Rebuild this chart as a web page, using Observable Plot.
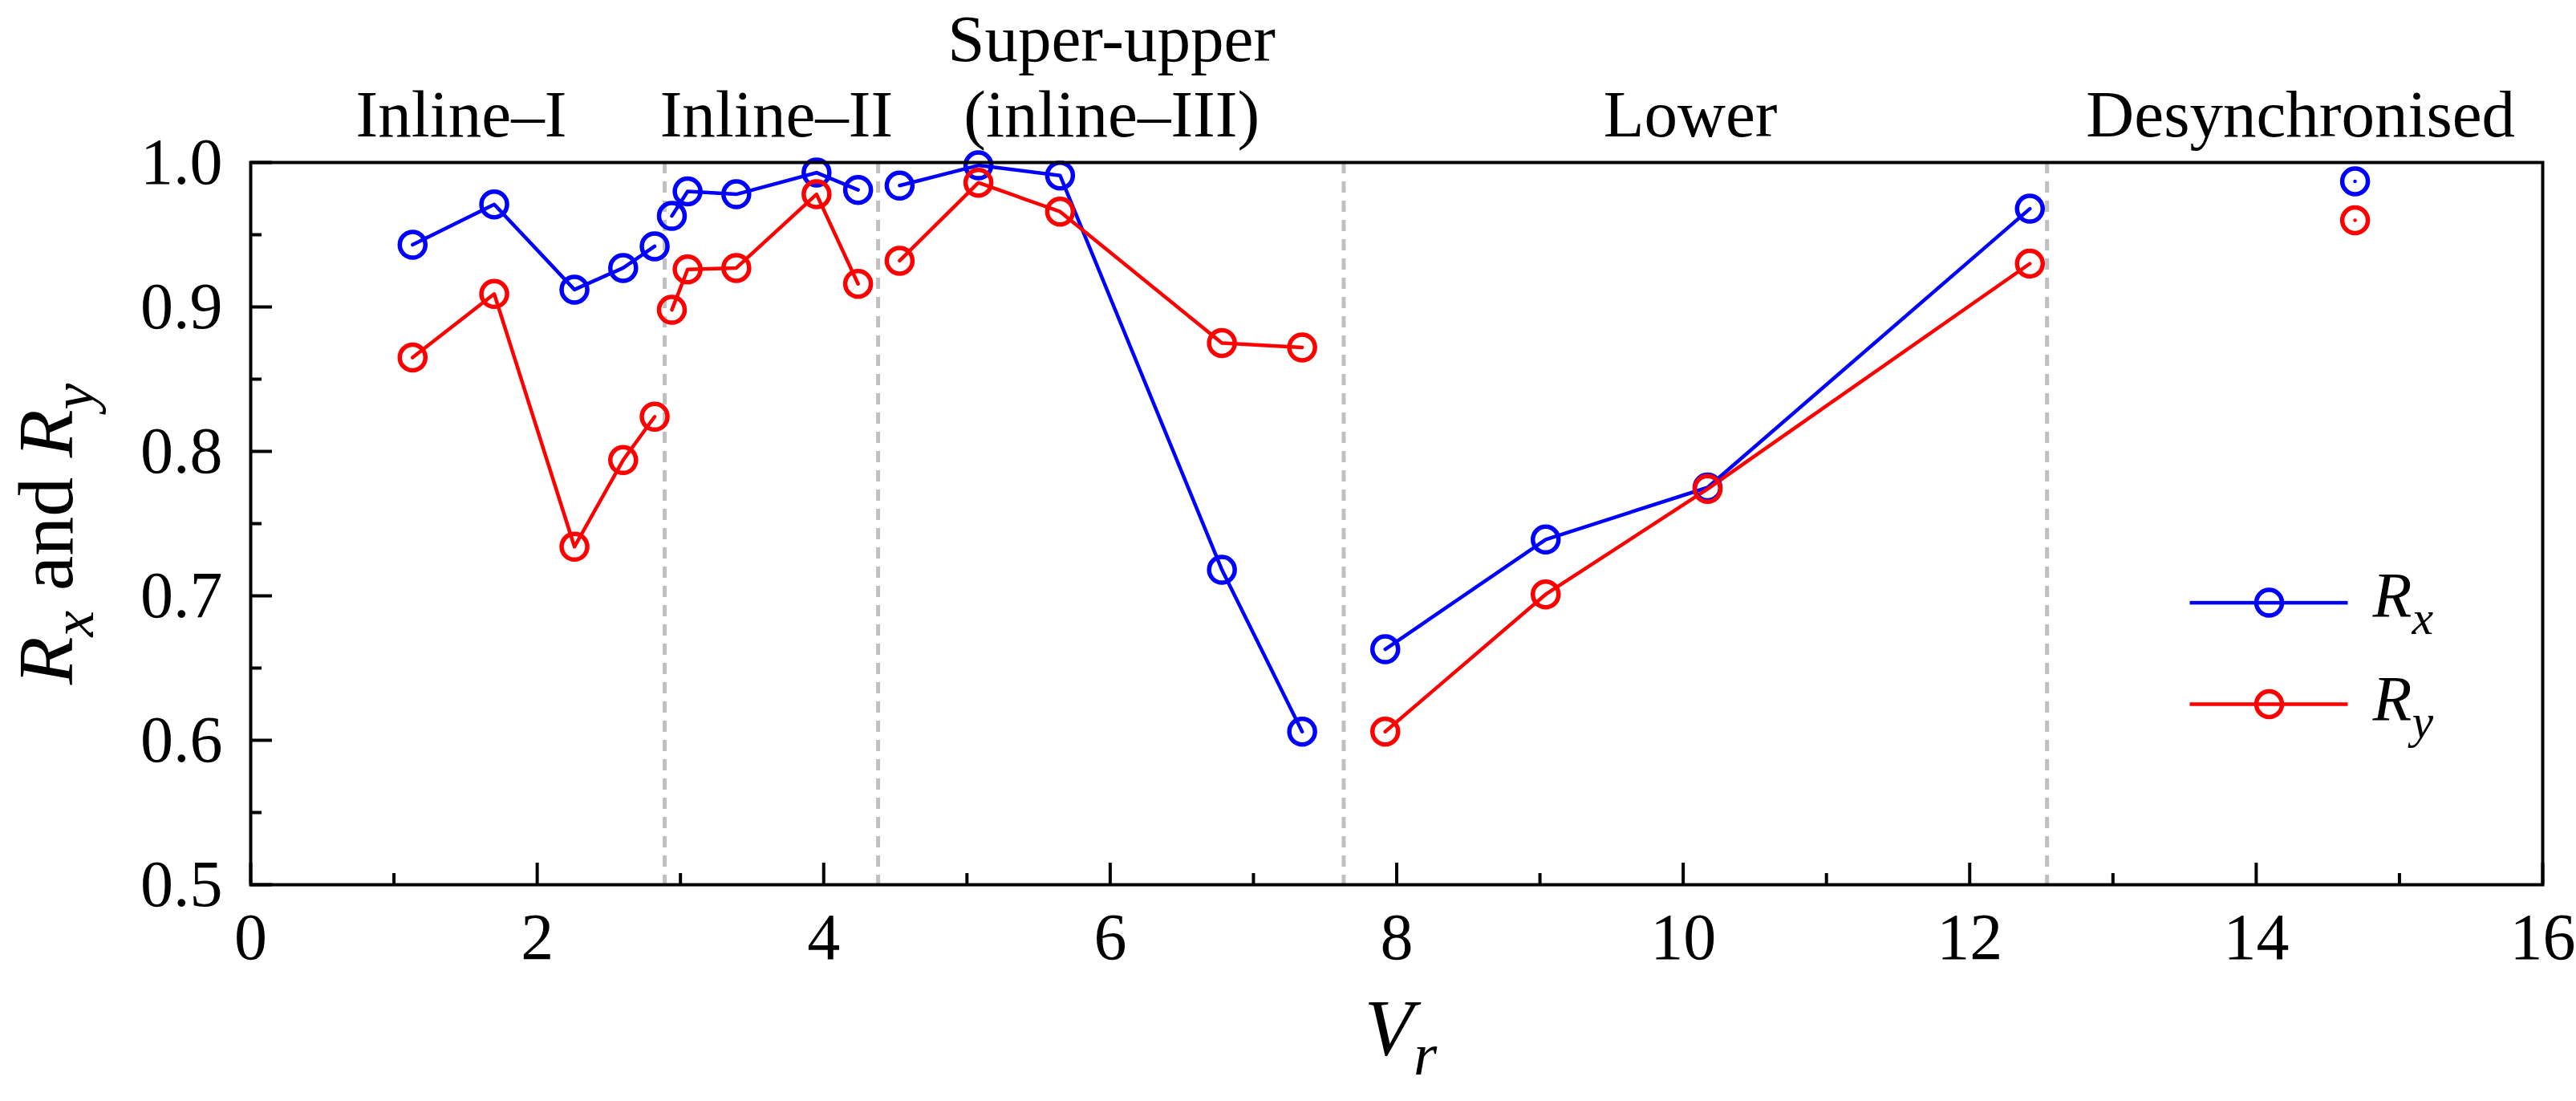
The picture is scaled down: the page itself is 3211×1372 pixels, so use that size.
<!DOCTYPE html>
<html>
<head>
<meta charset="utf-8">
<script src="https://cdn.jsdelivr.net/npm/d3@7"></script>
<script src="https://cdn.jsdelivr.net/npm/@observablehq/plot@0.6"></script>
<style>
  html, body { margin: 0; padding: 0; background: #fff; font-family: "Liberation Serif", serif; }
  #chart svg { display: block; }
  #xlabel { position: absolute; left: 0; top: 1260px; width: 3211px; height: 112px; font-family: "Liberation Serif"; font-size: 100px; }
  #xlabel span.lab { position: absolute; left: 1746px; top: -29px; transform: translateX(-50%);
                     font-family: "Liberation Serif", serif; font-size: 100px; line-height: 100px;
                     font-style: italic; color: #000; white-space: nowrap; }
  #xlabel span.sub { font-size: 75px; position: relative; top: 25px; }
</style>
</head>
<body>
<div id="xlabel"><span class="lab">V<span class="sub">r</span></span></div>
<div id="chart"></div>
<script>
// ---- data ----
const vr     = [1.13, 1.70, 2.26, 2.60, 2.82,   2.94, 3.05, 3.39, 3.95, 4.24,   4.53, 5.08, 5.65, 6.78, 7.34,   7.92, 9.04, 10.17, 12.42,   14.69];
const rx     = [0.943, 0.971, 0.912, 0.927, 0.942,   0.963, 0.980, 0.978, 0.993, 0.981,   0.984, 0.998, 0.991, 0.718, 0.606,   0.663, 0.739, 0.775, 0.968,   0.987];
const ry     = [0.865, 0.909, 0.734, 0.794, 0.824,   0.898, 0.926, 0.927, 0.978, 0.916,   0.932, 0.986, 0.966, 0.875, 0.872,   0.606, 0.701, 0.774, 0.930,   0.960];
const regime = ["I","I","I","I","I", "II","II","II","II","II", "SU","SU","SU","SU","SU", "L","L","L","L", "D"];

const regimeNames  = ["Inline–I", "Inline–II", "Super-upper\n(inline–III)", "Lower", "Desynchronised"];
const regimeLabelX = [1.47, 3.67, 6.01, 10.05, 14.31];
const boundaries   = [2.89, 4.38, 7.63, 12.54];

const xTicks      = [0, 2, 4, 6, 8, 10, 12, 14, 16];
const xMinorTicks = [1, 3, 5, 7, 9, 11, 13, 15];
const yTicks      = [0.5, 0.6, 0.7, 0.8, 0.9, 1.0];
const yMinorTicks = [0.55, 0.65, 0.75, 0.85, 0.95];

const seriesNames  = ["R_x", "R_y"];
const seriesColors = ["#0000ff", "#ff0000"];
const yLabel = "R_x and R_y";

// ---- build table ----
const rows = vr.flatMap((v, i) => [
  {vr: v, r: rx[i], series: seriesNames[0], regime: regime[i]},
  {vr: v, r: ry[i], series: seriesNames[1], regime: regime[i]}
]);

// ---- layout ----
const W = 3211, H = 1260;
const mL = 312, mR = 42, mT = 202, mB = 158;
const fw = W - mL - mR, fh = H - mT - mB;
const font = "Liberation Serif";

// legend geometry (pixels relative to the frame)
const legLineLeft = 2417, legLineRight = 243, legMarkerDx = -341, legTextDx = -212;
const legLineY = [548.6, 675], legTextY = [566, 695];

const legendMarks = seriesNames.flatMap((name, i) => [
  Plot.frame({fill: seriesColors[i], stroke: "none",
              insetLeft: legLineLeft, insetRight: legLineRight,
              insetTop: legLineY[i] - 2.25, insetBottom: fh - legLineY[i] - 2.25}),
  Plot.dot([name], {frameAnchor: "top-right", dx: legMarkerDx, dy: legLineY[i],
                    r: 16, stroke: seriesColors[i], strokeWidth: 5.5, fill: "none"}),
  Plot.text([name], {frameAnchor: "top-right", dx: legTextDx, dy: legTextY[i],
                     textAnchor: "start", lineAnchor: "bottom", fontSize: 80, fill: "#000"})
]);

const plot = Plot.plot({
  width: W, height: H,
  marginLeft: mL, marginRight: mR, marginTop: mT, marginBottom: mB,
  style: {fontFamily: font, fontSize: "82px"},
  x: {domain: [0, 16]},
  y: {domain: [0.5, 1.0]},
  color: {domain: seriesNames, range: seriesColors},
  marks: [
    Plot.ruleX(boundaries, {stroke: "#c0c0c0", strokeWidth: 5, strokeDasharray: "14,10"}),
    Plot.ruleX(xTicks, {insetTop: fh - 27, strokeWidth: 4, stroke: "#000"}),
    Plot.ruleX(xMinorTicks, {insetTop: fh - 14, strokeWidth: 4, stroke: "#000"}),
    Plot.ruleY(yTicks, {insetRight: fw - 27, strokeWidth: 4, stroke: "#000"}),
    Plot.ruleY(yMinorTicks, {insetRight: fw - 14, strokeWidth: 4, stroke: "#000"}),
    Plot.axisX({ticks: xTicks, tickSize: 0, tickPadding: 34, label: null, tickFormat: d3.format("d")}),
    Plot.axisY({ticks: yTicks, tickSize: 0, tickPadding: 35, label: null, tickFormat: d3.format(".1f")}),
    Plot.line(rows, {x: "vr", y: "r", z: d => d.series + d.regime, stroke: "series", strokeWidth: 4.5}),
    Plot.dot(rows, {x: "vr", y: "r", stroke: "series", r: 16, strokeWidth: 5.5, fill: "none"}),
    Plot.frame({stroke: "#000", strokeWidth: 4}),
    Plot.text(regimeNames, {x: (d, i) => regimeLabelX[i], frameAnchor: "top", dy: -33,
                            lineAnchor: "bottom", lineHeight: 1.13, fontSize: 83, fill: "#000"}),
    Plot.text([yLabel], {frameAnchor: "left", rotate: -90, dx: 89 - mL, dy: 13,
                         lineAnchor: "bottom", textAnchor: "middle", fontSize: 98, fill: "#000"}),
    ...legendMarks
  ]
});

// ---- turn "A_b" into italic letter with italic subscript ----
function subscriptify(textEl) {
  const s = textEl.textContent;
  if (!s.includes("_")) return;
  let fs = parseFloat(textEl.getAttribute("font-size"));
  if (!fs) { const g = textEl.closest("g[font-size]"); fs = g ? parseFloat(g.getAttribute("font-size")) : 82; }
  const shift = 0.27 * fs;
  const ns = "http://www.w3.org/2000/svg";
  textEl.textContent = "";
  const re = /([A-Za-z])_([a-z])/g;
  let last = 0, m, pendingUp = 0;
  const add = (txt, opts = {}) => {
    const t = document.createElementNS(ns, "tspan");
    t.textContent = txt;
    if (opts.italic) t.setAttribute("font-style", "italic");
    if (opts.size) t.setAttribute("font-size", opts.size);
    if (opts.dy) t.setAttribute("dy", opts.dy);
    textEl.appendChild(t);
  };
  while ((m = re.exec(s)) !== null) {
    if (m.index > last) { add(s.slice(last, m.index), {dy: pendingUp ? -pendingUp : 0}); pendingUp = 0; }
    add(m[1], {italic: true, dy: pendingUp ? -pendingUp : 0}); pendingUp = 0;
    add(m[2], {italic: true, size: 0.75 * fs, dy: shift});
    pendingUp = shift;
    last = re.lastIndex;
  }
  if (last < s.length) add(s.slice(last), {dy: pendingUp ? -pendingUp : 0});
}
plot.querySelectorAll("text").forEach(subscriptify);

document.getElementById("chart").appendChild(plot);
</script>
</body>
</html>
